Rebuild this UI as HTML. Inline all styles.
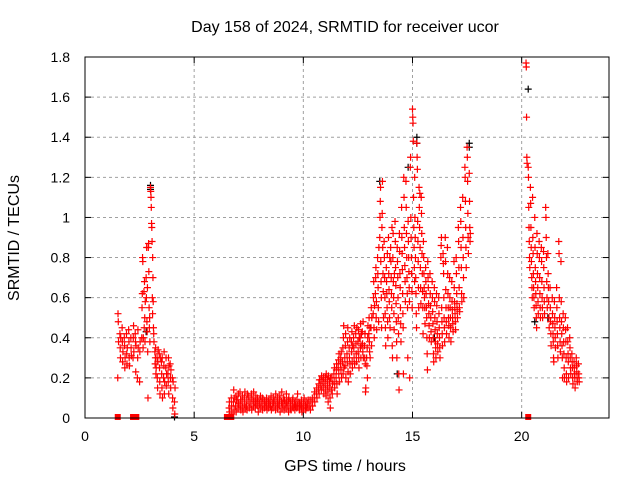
<!DOCTYPE html>
<html><head><meta charset="utf-8"><style>
body{margin:0;background:#fff}
svg{display:block;font-family:"Liberation Sans",sans-serif}
</style></head><body>
<svg id="chart" width="640" height="480">
<text x="345" y="32" font-size="16" text-anchor="middle">Day 158 of 2024, SRMTID for receiver ucor</text>
<text transform="translate(19,238) rotate(-90)" font-size="16" text-anchor="middle">SRMTID / TECUs</text>
<text x="345" y="471" font-size="16" text-anchor="middle">GPS time / hours</text>
<g id="grid"></g>
<g id="ticks"></g>
<g id="black"></g>
<g id="red"></g>
<rect x="85" y="57" width="524" height="361" fill="none" stroke="#000"/>
</svg>
<script>
const xTicks=[0,5,10,15,20];
const yTicks=[0,0.2,0.4,0.6,0.8,1,1.2,1.4,1.6,1.8];
const yTickLabels=["0","0.2","0.4","0.6","0.8","1","1.2","1.4","1.6","1.8"];
const redTimes=[1.5,1.6,1.7,1.8,1.9,2.0,2.1,2.2,2.3,2.4,2.5,2.6,2.7,2.8,2.9,3.0,3.1,3.2,3.3,3.4,3.5,3.6,3.7,3.8,3.9,4.0,4.1,
6.6,6.7,6.8,6.9,7.0,7.1,7.2,7.3,7.4,7.5,7.6,7.7,7.8,7.9,8.0,8.1,8.2,8.3,8.4,8.5,8.6,8.7,8.8,8.9,9.0,9.1,9.2,9.3,9.4,9.5,9.6,9.7,9.8,9.9,10.0,10.1,10.2,10.3,10.4,10.5,10.6,10.7,10.8,10.9,11.0,11.1,11.2,11.3,11.4,11.5,11.6,11.7,11.8,11.9,12.0,12.1,12.2,12.3,12.4,12.5,12.6,12.7,12.8,12.9,13.0,13.1,13.2,13.3,13.4,13.5,13.6,13.7,13.8,13.9,14.0,14.1,14.2,14.3,14.4,14.5,14.6,14.7,14.8,14.9,15.0,15.1,15.2,15.3,15.4,15.5,15.6,15.7,15.8,15.9,16.0,16.1,16.2,16.3,16.4,16.5,16.6,16.7,16.8,16.9,17.0,17.1,17.2,17.3,17.4,17.5,17.6,
20.2,20.3,20.4,20.5,20.6,20.7,20.8,20.9,21.0,21.1,21.2,21.3,21.4,21.5,21.6,21.7,21.8,21.9,22.0,22.1,22.2,22.3,22.4,22.5,22.6];
const redValues=[[0.2,0.52,0.48,0.38],[0.42,0.35,0.3,0.4],[0.45,0.38,0.28,0.33],[0.4,0.36,0.25,0.3],[0.42,0.32,0.27,0.35],[0.44,0.38,0.3,0.26],[0.4,0.35,0.31],[0.3,0.4,0.46,0.33],[0.42,0.38,0.23,0.36],[0.2,0.3,0.44,0.35],[0.18,0.33,0.38],
[0.4,0.55,0.62,0.8,0.78,0.35,0.4],[0.63,0.45,0.68,0.5,0.38,0.58],[0.7,0.6,0.85,0.48,0.43,0.65,0.33,0.1],[0.85,0.87,0.73,0.55,0.45,0.5,0.38],[1.15,1.13,1.1,1.05,0.97,0.95,0.88,0.6,0.52],[0.8,0.7,0.58,0.45,0.42,0.38],[0.33,0.27,0.3,0.35,0.22,0.25],[0.3,0.2,0.15,0.28,0.34],[0.32,0.25,0.18,0.12,0.3],[0.28,0.22,0.15,0.3,0.1],[0.2,0.26,0.33,0.12,0.18],[0.25,0.3,0.16,0.22],[0.22,0.18,0.3,0.12,0.26],[0.27,0.2,0.15,0.24],[0.2,0.1,0.05,0.18],[0.08,0.02,0.15],
[0.05,0.08,0.03],[0.1,0.06,0.02],[0.08,0.14,0.04,0.1],[0.06,0.11,0.03,0.09],[0.09,0.05,0.12,0.07],[0.13,0.06,0.09,0.04],[0.08,0.11,0.05,0.03],[0.1,0.07,0.13,0.05],[0.06,0.09,0.04,0.12],[0.11,0.08,0.05],[0.07,0.1,0.12,0.04],[0.09,0.06,0.13,0.08],[0.05,0.08,0.11,0.07],[0.1,0.06,0.08,0.03],[0.07,0.09,0.05,0.11],[0.08,0.06,0.1,0.04],[0.09,0.07,0.05,0.08],[0.06,0.1,0.08,0.04],[0.08,0.05,0.09,0.07],[0.06,0.09,0.11,0.04],[0.07,0.05,0.1,0.08],[0.09,0.06,0.04,0.12],[0.08,0.05,0.1,0.07],[0.06,0.09,0.11,0.03],[0.08,0.13,0.05,0.07],[0.1,0.06,0.04,0.09],[0.07,0.05,0.12,0.08],[0.06,0.09,0.03,0.1],[0.08,0.05,0.07,0.04],[0.09,0.06,0.1,0.05],[0.07,0.04,0.08,0.06],[0.05,0.09,0.06,0.12],[0.08,0.06,0.04,0.07],[0.06,0.09,0.05,0.03],[0.07,0.05,0.08,0.1],[0.06,0.04,0.08,0.05],[0.07,0.05,0.09],[0.06,0.09,0.04],[0.08,0.1,0.06],[0.1,0.13,0.08],[0.12,0.15,0.1],[0.14,0.17,0.12,0.19],[0.16,0.19,0.14,0.21],[0.18,0.15,0.2,0.12],[0.17,0.2,0.14,0.11,0.22],[0.19,0.16,0.13,0.08,0.21],[0.18,0.15,0.1,0.05,0.2],[0.14,0.2,0.12,0.17],[0.22,0.18,0.25,0.15],[0.2,0.24,0.27,0.17,0.12],[0.25,0.29,0.22,0.32,0.18],[0.27,0.3,0.24,0.33,0.2],[0.28,0.35,0.22,0.4,0.46,0.25],[0.3,0.26,0.36,0.42,0.2],[0.32,0.28,0.38,0.45,0.23,0.18],[0.35,0.3,0.4,0.27,0.22],[0.38,0.33,0.43,0.28,0.25,0.36],[0.4,0.35,0.3,0.46,0.27],[0.42,0.37,0.32,0.28,0.45],[0.38,0.33,0.44,0.3,0.25,0.4],[0.4,0.35,0.47,0.3,0.36,0.42],[0.43,0.37,0.33,0.48,0.3],[0.36,0.3,0.42,0.27,0.13,0.15],[0.3,0.26,0.35,0.2,0.4,0.46],
[0.42,0.5,0.38,0.33,0.45,0.3],[0.45,0.55,0.36,0.5],[0.52,0.6,0.68,0.45,0.4,0.56],[0.62,0.7,0.75,0.5,0.58,0.44],[0.8,0.72,0.65,0.55,0.48,0.85],[0.9,1.0,1.08,1.15,0.78,0.68,0.6,0.45],[0.95,1.02,1.18,0.85,0.72,0.63,0.5],[0.88,0.8,0.7,0.6,0.52,0.45,0.36],[0.75,0.68,0.62,0.55,0.82,0.48,0.4],[0.9,0.72,0.64,0.58,0.5,0.8,0.45],[0.85,0.78,0.7,0.62,0.55,0.95,0.36,0.3],[0.8,0.92,0.68,0.6,0.52,0.44,0.72],[0.98,0.88,0.75,0.66,0.57,0.48,0.38,0.3],[0.85,0.78,0.7,0.6,0.5,0.42,0.22,0.14],[0.92,0.83,0.72,0.65,0.55,0.47,0.38],[1.05,0.9,0.82,0.74,0.62,0.52,0.45,0.22],[1.2,1.1,0.95,0.85,0.76,0.68,0.58],[1.18,1.05,0.92,0.8,0.7,0.62,0.55,0.3],[0.98,0.88,0.8,0.73,0.65,0.58,0.2],[1.25,1.3,1.0,0.9,0.8,0.72,0.63,0.55],[1.54,1.5,1.47,1.38,1.1,0.95,0.85,0.75,0.68],[1.2,1.0,0.9,0.8,0.7,0.62,0.52,0.45],[1.37,1.3,1.24,0.98,0.88,0.78,0.65,0.55],[1.15,1.05,0.95,1.12,0.85,0.75,0.65,0.57],[1.1,1.02,0.92,0.82,0.72,0.63,0.55,0.42],[0.88,0.8,0.72,0.65,0.6,0.55,0.47],[0.75,0.68,0.62,0.55,0.5,0.4,0.32,0.24],[0.78,0.7,0.65,0.57,0.52,0.46,0.4],[0.72,0.62,0.56,0.5,0.43,0.38],[0.68,0.6,0.53,0.47,0.4,0.32,0.28],[0.65,0.58,0.5,0.44,0.38,0.35,0.3],[0.62,0.56,0.48,0.42,0.37,0.33],[0.6,0.52,0.45,0.4,0.35,0.3],[0.8,0.86,0.9,0.55,0.48,0.42,0.36],[0.82,0.77,0.72,0.6,0.5,0.45,0.38],[0.9,0.78,0.64,0.55,0.48,0.42],[0.85,0.72,0.62,0.55,0.5,0.46,0.4],[0.7,0.6,0.55,0.5,0.45,0.38],[0.68,0.58,0.54,0.5,0.47,0.43],[0.78,0.65,0.58,0.55,0.52,0.48,0.44],[0.8,0.72,0.62,0.57,0.54,0.5],[0.95,0.88,0.75,0.65,0.55,0.53],[1.05,0.98,0.85,0.75,0.62,0.58],[1.1,0.9,0.8,0.7,0.6],[1.25,1.2,1.08,0.95,0.85,0.75],[1.35,1.3,1.18,1.02,0.9,0.82],[1.22,1.08,0.95,0.88,0.92],
[1.77,1.75,1.5,1.3,1.27],[1.25,1.2,1.05,0.95,0.88,0.8,0.75],[1.15,1.07,0.95,0.85,0.78,0.7,0.65,0.6],[1.1,0.9,0.82,0.72,0.65,0.6,0.55],[1.0,0.85,0.75,0.68,0.62,0.56,0.5,0.45],[0.92,0.82,0.72,0.65,0.58,0.52],[0.88,0.8,0.7,0.62,0.55,0.5],[0.85,0.78,0.68,0.6,0.55,0.5],[0.83,0.75,0.65,0.58,0.52],[1.05,1.0,0.9,0.8,0.68,0.6,0.55],[0.82,0.72,0.65,0.58,0.5,0.45],[0.65,0.55,0.48,0.42,0.36],[0.6,0.52,0.47,0.42,0.38,0.3,0.28],[0.58,0.5,0.45,0.4,0.35],[0.65,0.55,0.48,0.42,0.36,0.3],[0.88,0.82,0.6,0.5,0.45,0.38,0.33],[0.78,0.58,0.48,0.42,0.36,0.3,0.2],[0.52,0.45,0.38,0.32,0.25,0.2],[0.5,0.44,0.38,0.3,0.22,0.18],[0.45,0.38,0.32,0.28,0.2],[0.4,0.35,0.3,0.25,0.22],[0.32,0.28,0.25,0.2,0.17],[0.28,0.25,0.22,0.2,0.15],[0.3,0.26,0.23,0.2,0.18],[0.27,0.22,0.2,0.18]];
const redZeroTimes=[1.5,2.2,2.25,2.3,2.35,6.5,6.55,6.6,6.65,6.7,20.3];
const blackTimes=[3.0,3.0,2.8,4.1,13.5,14.8,15.2,15.2,17.6,17.6,20.3,20.6,21.2,14.3,16.0];
const blackValues=[1.16,1.14,0.43,0.0,1.18,1.25,1.4,1.37,1.37,1.35,1.64,0.48,0.5,0.22,0.4];

const NS="http://www.w3.org/2000/svg";
const X0=85,X1=609,Y0=418,Y1=57;
function xs(t){return X0+(t/24)*(X1-X0);}
function ys(v){return Y0-(v/1.8)*(Y0-Y1);}
function mk(tag,attrs,parent){const e=document.createElementNS(NS,tag);for(const k in attrs)e.setAttribute(k,attrs[k]);parent.appendChild(e);return e;}
const grid=document.getElementById('grid'),ticks=document.getElementById('ticks');
xTicks.forEach(t=>{
  const x=xs(t);
  if(t>0){const g=mk('line',{x1:x,x2:x,y1:Y1,y2:Y0,stroke:'#a0a0a0','stroke-dasharray':'3,3'},grid);
  
  }
  mk('line',{x1:x,x2:x,y1:Y0,y2:Y0-6,stroke:'#000'},ticks);
  mk('line',{x1:x,x2:x,y1:Y1,y2:Y1+6,stroke:'#000'},ticks);
  const l=mk('text',{x:x,y:Y0+23,'font-size':14,'text-anchor':'middle'},ticks);l.textContent=t;
  
  
});
yTicks.forEach((v,i)=>{
  const y=ys(v);
  if(i>0&&i<yTicks.length-1){const g=mk('line',{x1:X0,x2:X1,y1:y,y2:y,stroke:'#a0a0a0','stroke-dasharray':'3,3'},grid);
  
  }
  mk('line',{x1:X0,x2:X0+6,y1:y,y2:y,stroke:'#000'},ticks);
  mk('line',{x1:X1,x2:X1-6,y1:y,y2:y,stroke:'#000'},ticks);
  const l=mk('text',{x:X0-15,y:y+5,'font-size':14,'text-anchor':'end'},ticks);l.textContent=yTickLabels[i];
  
  
});
function plus(g,t,v,color){
  const x=xs(t),y=Math.min(ys(v),Y0-1);
  const p=mk('path',{d:`M${x-3.5},${y}h7M${x},${y-3.5}v7`,stroke:color,'stroke-width':1.2,fill:'none'},g);
  
  
}
const blk=document.getElementById('black'),red=document.getElementById('red');
blackTimes.forEach((t,i)=>plus(blk,t,blackValues[i],'#000'));
redTimes.forEach((t,i)=>{const vals=redValues[i];vals.forEach((v,j)=>plus(red,t+j*0.012,v,'#f00'));});
redZeroTimes.forEach(t=>{
  const r=mk('rect',{x:xs(t)-3,y:Y0-4,width:6,height:6,fill:'#f00'},red);
  
  
});
</script>
</body></html>
